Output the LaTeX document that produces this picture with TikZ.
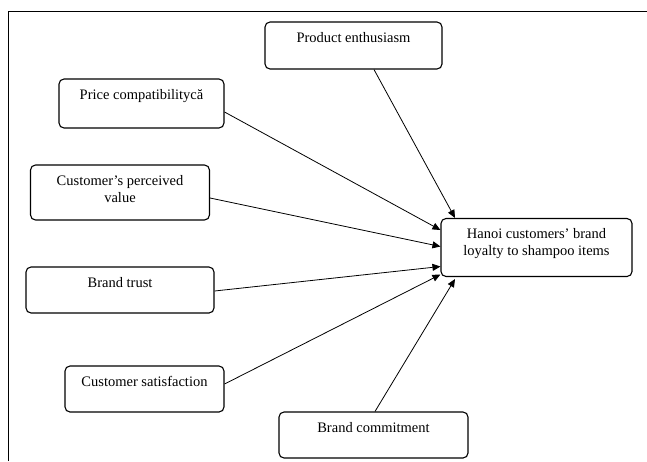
\documentclass[tikz,border=0pt]{standalone}
\usepackage{fontspec}
\setmainfont{Liberation Serif}
\usetikzlibrary{arrows.meta,positioning}

\newcommand{\factortext}[3]{\parbox[c][#2][t]{#1}{\centering\rule{0pt}{20pt}#3}}

\begin{document}
\begin{tikzpicture}[x=1pt,y=-1pt,>={Triangle[length=8pt,width=7pt]},
  factor/.style={draw,rounded corners=5pt,inner sep=0pt,line width=1.1pt,
    font=\fontsize{14.5}{17.4}\selectfont}]
  \useasboundingbox (0,0) rectangle (647,461);
  \draw[line width=0.9pt] (8,461) -- (8,11) -- (647,11);
  \node[factor] (PE) at (353.5,45.5) {\factortext{177pt}{47pt}{Product enthusiasm}};
  \node[factor] (PC) at (141.5,103.5) {\factortext{165pt}{49pt}{Price compatibilitycă}};
  \node[factor] (PV) at (120,192.5) {\factortext{179pt}{55pt}{Customer's perceived\\value}};
  \node[factor] (BT) at (120,290) {\factortext{188pt}{46pt}{Brand trust}};
  \node[factor] (CS) at (144.5,389) {\factortext{159pt}{46pt}{Customer satisfaction}};
  \node[factor] (BC) at (373.5,435) {\factortext{189pt}{46pt}{Brand commitment}};
  \node[factor] (HL) at (536.5,247.5) {\factortext{191pt}{58pt}{Hanoi customers' brand\\loyalty to shampoo items}};
\tikzset{influence/.style={->,line width=0.8pt}}
\path ([xshift=20.5pt]PE.south) edge [influence] ([xshift=-81.5pt]HL.north)
      ([yshift=-8.5pt]PC.east)  edge [influence] ([yshift=17.5pt]HL.west)
      ([yshift=-5.5pt]PV.east)  edge [influence] ([yshift=1pt]HL.west)
      ([yshift=-1pt]BT.east)    edge [influence] ([yshift=-19pt]HL.west)
      ([yshift=5pt]CS.east)     edge [influence] ([yshift=-27pt]HL.west)
      ([xshift=1.5pt]BC.north)  edge [influence] ([xshift=-81.5pt,yshift=-2pt]HL.south);
\end{tikzpicture}
\end{document}
